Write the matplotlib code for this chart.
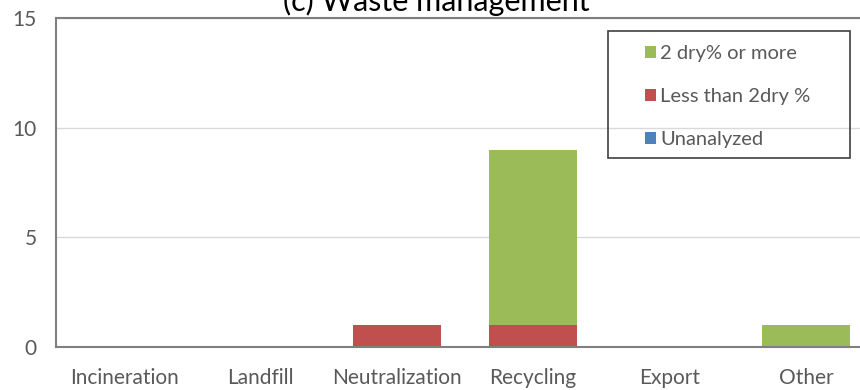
import matplotlib.pyplot as plt
from matplotlib.patches import Rectangle
import numpy as np

plt.rcParams['font.family'] = ['Lato', 'DejaVu Sans']

# Data
categories = ["Incineration", "Landfill", "Neutralization", "Recycling", "Export", "Other"]
unanalyzed = [0, 0, 0, 0, 0, 0]
less_than_2dry = [0, 0, 1, 1, 0, 0]
dry2_or_more = [0, 0, 0, 8, 0, 1]

c_green = "#9BBB59"
c_red = "#C0504D"
c_blue = "#4F81BD"
txt = "#595959"

fig = plt.figure(figsize=(8.6, 3.9), dpi=100)
# plot area runs a little past the right edge of the picture, like the original
ax = fig.add_axes([56/860, 1 - 347/390, 818/860, 329/390])

x = np.arange(len(categories))
w = 0.645
b_blue = ax.bar(x, unanalyzed, w, color=c_blue, label="Unanalyzed")
b_red = ax.bar(x, less_than_2dry, w, bottom=unanalyzed, color=c_red, label="Less than 2dry %")
bottom2 = np.array(unanalyzed) + np.array(less_than_2dry)
b_green = ax.bar(x, dry2_or_more, w, bottom=bottom2, color=c_green, label="2 dry% or more")

ax.set_xlim(-0.5, len(categories) - 0.5)
ax.set_ylim(0, 15)
ax.set_yticks([0, 5, 10, 15])
ax.set_xticks(x)
ax.set_xticklabels(categories)
ax.tick_params(axis='both', length=0, labelsize=15, labelcolor=txt)
ax.tick_params(axis='y', pad=14)
ax.tick_params(axis='x', pad=15)
ax.grid(axis='y', color="#d9d9d9", linewidth=1)
ax.set_axisbelow(True)
for s in ["left", "bottom", "top"]:
    ax.spines[s].set_color("#7f7f7f")
    ax.spines[s].set_linewidth(1.5)
ax.spines["right"].set_visible(False)

# title, mostly cut off at the top (as in the original)
fig.text(436/860, 1 - 11/390, "(c) Waste management", ha='center', va='baseline',
         fontsize=22, color="#000000")

# legend box
fig.patches.append(Rectangle((608/860, 1 - 158/390), 242/860, 127/390,
                             transform=fig.transFigure, fill=False,
                             edgecolor="#404040", linewidth=1.2))
leg = fig.legend([b_green, b_red, b_blue],
                 ["2 dry% or more", "Less than 2dry %", "Unanalyzed"],
                 loc='upper left', bbox_to_anchor=(631/860, 1 - 31/390),
                 frameon=False, fontsize=14.5, labelcolor=txt,
                 handlelength=0.55, handleheight=0.55, handletextpad=0.2,
                 labelspacing=1.3, borderpad=0.2)

fig.savefig("out.png", dpi=100)
